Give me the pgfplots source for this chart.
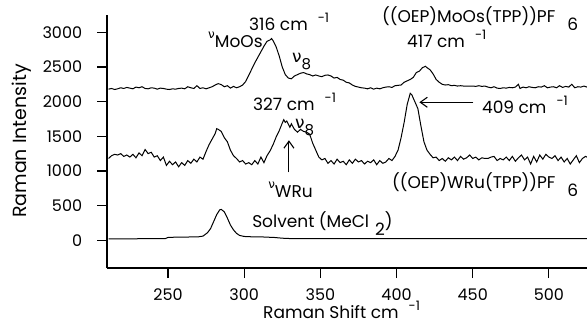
\documentclass[border=0pt]{standalone}
\usepackage{pgfplots}
\pgfplotsset{compat=1.18}
\usepackage{fontspec}
\setmainfont{Poppins}
\newfontfamily\grk{DejaVu Sans}
\usetikzlibrary{arrows.meta}
\newcommand\sy[1]{\hspace{10bp}\raisebox{0.85ex}{\fontsize{13bp}{13bp}\selectfont #1}}
\newcommand\nuu{{\grk ν}}
\newcommand\nusub[1]{\raisebox{9bp}{\fontsize{12bp}{12bp}\selectfont\nuu}#1}

\pgfplotstableread{
x y
211 2180
213 2190
215 2175
217 2185
219 2200
221 2190
223 2205
225 2195
227 2185
229 2210
231 2200
233 2215
235 2190
237 2185
239 2200
241 2195
243 2180
245 2195
247 2190
249 2180
251 2175
253 2185
255 2180
257 2190
259 2195
261 2185
263 2215
265 2200
267 2190
269 2230
271 2190
273 2200
275 2185
277 2200
279 2215
281 2240
283 2260
285 2245
287 2215
289 2230
291 2195
293 2220
295 2200
297 2215
299 2240
301 2290
303 2380
305 2470
307 2560
309 2640
311 2720
313 2800
315 2870
317 2890
318 2910
319 2880
321 2790
323 2660
325 2500
327 2390
329 2340
331 2330
333 2370
335 2390
337 2410
339 2420
341 2400
343 2390
345 2370
347 2385
349 2370
351 2360
353 2380
355 2385
357 2370
359 2340
361 2350
363 2320
365 2310
367 2280
369 2270
371 2240
373 2220
375 2210
377 2200
379 2195
381 2185
383 2200
385 2180
387 2195
389 2185
391 2200
393 2210
395 2215
397 2205
399 2230
401 2235
403 2240
405 2280
407 2300
409 2320
411 2350
413 2420
415 2440
417 2490
419 2510
420 2490
422 2460
424 2400
426 2320
428 2280
430 2250
432 2240
434 2245
436 2230
438 2235
440 2225
442 2230
444 2225
446 2225
448 2225
450 2225
452 2220
454 2230
456 2220
458 2225
460 2210
462 2200
464 2215
466 2195
468 2190
470 2200
472 2195
474 2205
476 2200
478 2210
480 2250
481 2190
483 2210
485 2200
487 2215
489 2205
491 2200
493 2215
495 2210
497 2230
499 2200
501 2210
503 2215
505 2200
507 2230
509 2205
511 2220
513 2210
515 2250
517 2200
519 2215
521 2210
523 2225
525 2210
}\mooos

\pgfplotstableread{
x y
211 1180
213 1220
215 1240
217 1230
219 1250
221 1210
223 1230
225 1200
227 1240
229 1190
231 1260
233 1220
235 1310
237 1250
239 1270
241 1200
243 1220
245 1150
247 1200
249 1080
251 1140
253 1090
255 1130
257 1060
259 1120
261 1080
263 1150
265 1110
267 1170
269 1130
271 1200
273 1170
275 1280
277 1380
279 1460
281 1540
282 1610
283 1600
285 1570
287 1480
289 1420
291 1300
293 1220
295 1180
297 1130
299 1150
301 1100
303 1120
305 1090
307 1150
309 1100
311 1200
313 1120
315 1220
317 1290
319 1380
321 1490
323 1580
325 1690
326 1740
327 1700
328 1720
330 1630
331 1680
333 1600
335 1560
337 1600
339 1570
341 1560
343 1530
345 1400
347 1300
349 1200
351 1160
353 1180
355 1110
357 1150
359 1100
361 1170
363 1120
365 1140
367 1090
369 1160
371 1110
373 1170
375 1130
377 1150
379 1100
381 1140
383 1120
385 1160
387 1090
389 1150
391 1110
393 1130
395 1180
397 1150
399 1210
401 1300
403 1480
405 1700
407 1960
409 2120
410 2100
412 2000
414 1900
416 1650
418 1420
420 1300
422 1240
424 1190
426 1200
428 1150
430 1180
432 1140
434 1190
436 1160
438 1200
440 1150
442 1210
444 1170
446 1190
448 1230
450 1180
452 1200
454 1160
456 1190
458 1180
460 1180
462 1200
464 1210
466 1150
468 1180
470 1160
472 1200
474 1150
476 1210
478 1140
480 1190
482 1230
484 1160
486 1200
488 1100
490 1210
492 1130
494 1230
496 1170
498 1240
500 1200
502 1180
504 1220
506 1150
508 1200
510 1130
512 1180
514 1100
516 1160
518 1220
520 1120
522 1180
524 1210
525 1200
}\wru

\pgfplotstableread{
x y
211 20
220 20
230 22
240 22
248 22
250 40
255 45
260 45
265 48
270 50
273 60
276 110
278 170
280 270
282 370
284 440
285 445
287 410
289 320
291 220
293 150
295 100
297 70
300 55
305 50
310 50
315 45
320 40
325 30
330 25
340 25
360 25
400 25
450 25
500 25
525 25
}\solv

\begin{document}
\fontsize{17bp}{20bp}\selectfont
\begin{tikzpicture}
\useasboundingbox (0,0) rectangle (587bp,324bp);
\begin{axis}[
  at={(107bp,56bp)}, anchor=south west,
  scale only axis, width=480bp, height=253bp,
  xmin=210, xmax=525, ymin=-400, ymax=3250,
  axis x line=bottom, axis y line=left,
  axis line style={-, line width=1.3bp},
  xtick={250,300,...,500}, ytick={0,500,...,3000},
  tick align=outside, major tick length=10bp,
  tick style={line width=1.1bp, black},
  /pgf/number format/assume math mode=true,
  /pgf/number format/set thousands separator={},
  tick label style={font=\fontsize{16bp}{18bp}\selectfont},
  yticklabel style={xshift=-9bp},
  xticklabel style={inner sep=1bp, yshift=-10bp},
  clip=false,
]
\addplot[black, line width=1bp] table[x=x,y=y] {\mooos};
\addplot[black, line width=1bp] table[x=x,y=y] {\wru};
\addplot[black, line width=1bp] table[x=x,y=y] {\solv};

\node[anchor=base west, inner sep=0] at (axis cs:303.2,3030) {316 cm\sy{-1}};
\node[anchor=base west, inner sep=0] at (axis cs:276.3,2784) {\nusub{MoOs}};
\node[anchor=base west, inner sep=0] at (axis cs:331.4,2568) {\nuu\raisebox{-7bp}{\fontsize{15bp}{15bp}\selectfont 8}};
\node[anchor=base west, inner sep=0] at (axis cs:390.4,3145) {((OEP)MoOs(TPP))PF\hspace{12bp}\raisebox{-8bp}{6}};
\node[anchor=base west, inner sep=0] at (axis cs:406.9,2784) {417 cm\sy{-1}};
\node[anchor=base west, inner sep=0] at (axis cs:305.8,1875) {327 cm\sy{-1}};
\node[anchor=base west, inner sep=0] at (axis cs:333.4,1616) {\nuu\raisebox{-7bp}{\fontsize{15bp}{15bp}\selectfont 8}};
\node[anchor=base west, inner sep=0] at (axis cs:456,1832) {409 cm\sy{-1}};
\draw[-{Straight Barb[length=7bp,width=10bp]}, line width=1.1bp] (axis cs:450.5,1991) -- (axis cs:415,1991);
\draw[-{Straight Barb[length=7bp,width=10bp]}, line width=1.1bp] (axis cs:329.4,981) -- (axis cs:329.4,1443);
\node[anchor=base west, inner sep=0] at (axis cs:315.7,620) {\nusub{WRu}};
\node[anchor=base west, inner sep=0] at (axis cs:397,750) {((OEP)WRu(TPP))PF\hspace{12bp}\raisebox{-8bp}{6}};
\node[anchor=base west, inner sep=0] at (axis cs:305.2,188) {Solvent (MeCl\hspace{6bp}\raisebox{-8bp}{2})};
\node[anchor=base west, inner sep=0, font=\fontsize{17bp}{20bp}\selectfont] at (axis description cs:0.325,-0.198) {Raman Shift cm\sy{-1}};
\node[rotate=90, inner sep=0, font=\fontsize{19bp}{22bp}\selectfont] at (axis description cs:-0.177,0.502) {Raman Intensity};
\end{axis}
\end{tikzpicture}
\end{document}
